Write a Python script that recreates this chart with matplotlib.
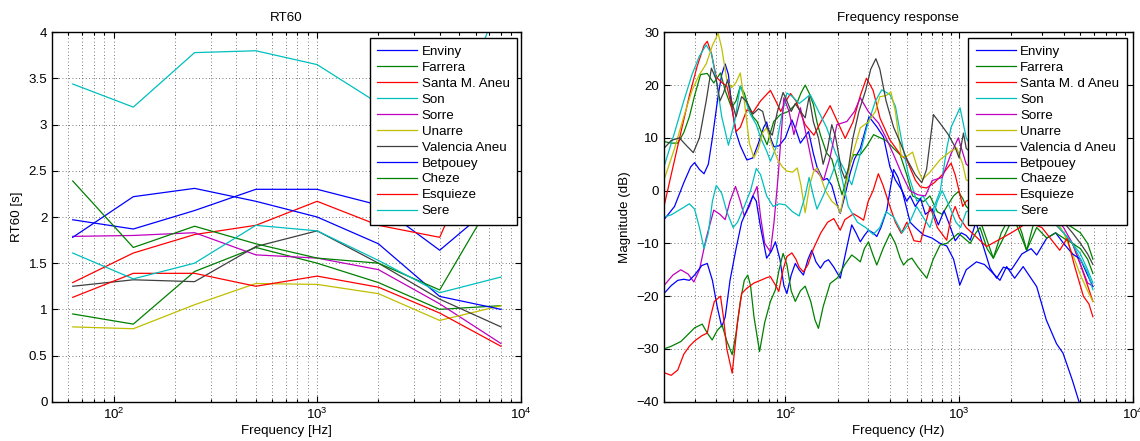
import numpy as np
import matplotlib
matplotlib.use('Agg')
import matplotlib.pyplot as plt
from matplotlib.ticker import LogLocator, NullFormatter

plt.rcParams['font.family'] = ['Liberation Sans', 'DejaVu Sans']
plt.rcParams['mathtext.fontset'] = 'custom'
plt.rcParams['mathtext.rm'] = 'Liberation Sans'
plt.rcParams['mathtext.it'] = 'Liberation Sans:italic'
plt.rcParams['mathtext.bf'] = 'Liberation Sans:bold'

# ---------------- RT60 data (octave bands) ----------------
octave_freqs = [63, 125, 250, 500, 1000, 2000, 4000, 8000]
rt_enviny = [1.97, 1.87, 2.07, 2.30, 2.30, 2.13, 1.64, 2.20]
rt_farrera = [0.95, 0.84, 1.41, 1.67, 1.50, 1.29, 1.00, 1.04]
rt_santa = [1.29, 1.61, 1.81, 1.91, 2.17, 1.91, 1.78, 3.28]
rt_son = [3.44, 3.19, 3.78, 3.80, 3.65, 3.23, 2.60, 4.40]
rt_sorre = [1.79, 1.80, 1.83, 1.59, 1.555, 1.43, 1.06, 0.63]
rt_unarre = [0.81, 0.79, 1.05, 1.28, 1.27, 1.17, 0.88, 1.04]
rt_valencia = [1.25, 1.32, 1.30, 1.68, 1.85, 1.50, 1.11, 0.81]
rt_betpouey = [1.78, 2.22, 2.31, 2.17, 2.00, 1.71, 1.14, 1.00]
rt_cheze = [2.39, 1.67, 1.90, 1.71, 1.555, 1.50, 1.21, 2.34]
rt_esquieze = [1.13, 1.39, 1.39, 1.25, 1.36, 1.24, 0.96, 0.60]
rt_sere = [1.61, 1.33, 1.50, 1.91, 1.85, 1.53, 1.18, 1.35]

rt_labels = ['Enviny', 'Farrera', 'Santa M. Aneu', 'Son', 'Sorre', 'Unarre',
             'Valencia Aneu', 'Betpouey', 'Cheze', 'Esquieze', 'Sere']
rt_yticklabels = ['0', '0.5', '1', '1.5', '2', '2.5', '3', '3.5', '4']

# ---------------- Frequency response data ----------------
enviny_f = [20, 23, 26, 28.5, 30, 32, 34, 36, 38, 41, 43, 45, 47, 49, 52, 55, 60, 65, 70, 75, 78, 82, 86, 92,
            100, 109, 115, 122, 136, 145, 152, 165, 174, 185, 200, 207, 220, 236, 250, 270, 303, 320, 336, 367,
            400, 430, 470, 523, 560, 624, 700, 778, 850, 930, 1010, 1100, 1260, 1400, 1720, 1880, 2090, 2340,
            2800, 3180, 3640, 3970, 4500, 4960]
enviny_db = [-5.5, -3, 1.5, 4.5, 5.3, 4, 3.2, 5, 10, 18, 22, 24, 22, 16, 11, 8.5, 5.8, 6.2, 9, 12, 13, 10, 8.3, 8.5,
             10, 13.4, 11.5, 9, 11.2, 7, 4.5, 2, 2.3, 1, -3, -4.3, -1, 3.3, 6, 8, 14, 13, 12.1, 10.2,
             4.5, 2, 0, -6, -7, -8.4, -9, -10, -10.5, -13, -17.9, -15, -13.5, -14, -17, -14.4, -16.6, -14.4,
             -18.2, -24.5, -29, -30.8, -36, -40.5]

farrera_f = [20, 22, 24, 26, 28, 30, 32.5, 35.5, 38.7, 42.3, 45, 49, 52, 55, 58, 61.5, 65, 68.7, 73, 78.5, 82,
             85.7, 93.6, 104, 116.6, 123, 130, 137, 145, 152, 159, 173, 185, 200, 212, 222, 231, 247, 270, 295,
             322, 352, 380, 420, 458, 500, 540, 580, 624, 680, 750, 800, 870, 930, 990, 1050, 1100, 1320, 1575,
             1750, 2053, 2300, 2450, 2700, 3000, 3500, 4000, 4500, 5000, 5500, 5900]
farrera_db = [9.3, 9, 9, 11, 14, 18, 22, 22.2, 20.4, 22.3, 19, 15.7, 17, 19.8, 18.5, 15.7, 14, 13.1, 11, 8.7, 11,
              13.1, 14.4, 15, 16.6, 18.5, 20, 18.5, 16.3, 13, 10.6, 7.1, 6, 2, -0.8, 1.5, 4.3, 6.8, 6.8, 8.5,
              10.6, 10, 9.5, 8, 6.8, 3, -1, -1.5, -2.1, -1, -4, -4.5, -2.5, -1, -0.2, -1.5, -3, -5.6, -12.8,
              -8, -3.7, -8, -11.3, -6, -3, -4, -6, -7, -8, -10, -13]

santa_f = [20, 22, 25, 28, 31, 34, 35.5, 37.5, 40, 43, 46, 49, 52, 55, 60, 65, 72, 82, 88, 94, 100, 107, 115,
           130, 146, 160, 181, 200, 221, 245, 270, 293, 320, 351, 400, 460, 500, 560, 600, 650, 720, 800, 900,
           950, 1000, 1050, 1100, 1500, 2000, 2500, 3000, 3500, 4000, 4500, 5000, 5500, 5900]
santa_db = [-3, 3, 11, 18, 23.5, 27.5, 28.3, 26, 21.5, 20.5, 19.8, 16, 11.2, 12, 15.3, 14.8, 17, 19, 17, 15, 16.8,
            18.4, 17, 12.5, 10.5, 13, 16.1, 13, 9.9, 13, 18, 21.3, 19, 13.7, 9.6, 6.8, 5.8, 2, 0.7, 0.5, 1.5, 3,
            5.2, 3, 0, -3, -2, 0, -2, -4, -3, -6, -8, -10, -14, -18, -21]

son_f = [20, 23, 26, 29, 32, 35, 37.5, 40, 43, 47, 51, 55, 59, 63, 68, 72, 78, 82, 88, 95, 102, 110, 120, 131,
         139, 150, 173, 195, 216, 241, 265, 294, 330, 359, 400, 430, 470, 511, 571, 620, 700, 780, 850, 900, 1013,
         1100, 1300, 1600, 2000, 2500, 3000, 3500, 4000, 4500, 5000, 5500, 5900]
son_db = [4.5, 11, 17, 22, 25.5, 27.6, 26, 21, 14, 8.6, 13, 19.8, 17, 14.4, 12.5, 10, 7.5, 5.6, 8, 14, 18.5, 17.8,
          16.5, 17.5, 18.2, 16, 11.9, 7, 4.3, 1.1, 6, 11.9, 17, 19.1, 18.2, 16, 9, 3, -2, -1, -4, 0, 8, 12, 15.7,
          10, 6, 2, 0, -3, -4, -5, -8, -10, -12, -15, -17.5]

sorre_f = [20, 22.5, 25, 27.5, 29.7, 32, 35, 38.7, 42, 45, 48, 51.6, 55, 58, 62, 65, 68.7, 72, 76, 82, 86, 91,
           98, 105, 112, 122, 133, 145, 152, 166, 180, 198, 226, 250, 270, 300, 344, 380, 420, 470, 520, 580,
           640, 700, 800, 900, 990, 1100, 1500, 2000, 2500, 3000, 3500, 4000, 4500, 5000, 5500, 5900]
sorre_db = [-18, -16, -15, -15.8, -17.3, -15, -9, -3.7, -4.5, -5.5, -2, 0.8, -2, -4.8, -3, -1, 0.8, -5, -10,
            -11.6, -6, 3, 17.6, 15, 10.6, 15.7, 10, 4, 3.6, 2, 6, 12.5, 13.1, 15, 17.6, 15, 12.8, 10, 6.8, 3, 0,
            -0.8, -1, 1.9, 2.5, 7, 10, 5, 2, 0, -2, -3, -5, -7, -10, -14, -17.5, -18.1]

unarre_f = [20, 23, 26, 29, 32, 35, 38, 41, 43, 46, 49, 52, 55, 58, 62, 65.8, 70, 74, 78, 83, 90, 96, 102, 110,
            117, 123, 130, 138, 145, 152, 160, 170, 185, 200, 207, 220, 240, 270, 300, 330, 350, 380, 405, 430,
            465, 500, 540, 580, 615, 680, 780, 900, 970, 1050, 1100, 1500, 2000, 2500, 3000, 3500, 4000, 4500,
            5000, 5500, 5900]
unarre_db = [2, 8, 14, 19, 22, 24, 27.5, 29.8, 27, 21, 19.5, 20.5, 22.3, 17, 9, 6.2, 8, 11, 11.9, 9, 6, 4.5, 3.7,
             3.5, 4.3, 1, -4.2, 1, 3.5, 4.3, 2.5, 0, -2, -3, -4.2, 0, 6, 11.9, 13, 15, 17.8, 18, 18.7, 15, 6.4, 6.5,
             7.3, 4, 2.1, 3.5, 5.9, 7.5, 8.1, 5, 2, 1, -1, -3, -2, -5, -8, -12, -16, -19, -21]

valencia_f = [20, 22, 24.5, 27, 29.5, 32, 35, 37.5, 40, 42, 44, 46.5, 49, 52, 56, 60, 65, 70, 74, 78, 84, 90, 97,
              102, 108, 114, 122, 130, 137, 145, 155, 165, 175, 185, 195, 210, 220, 230, 245, 265, 290, 310, 332,
              350, 380, 420, 460, 500, 560, 610, 650, 712, 780, 868, 948, 1000, 1060, 1100, 1500, 2000, 2500,
              3000, 3500, 4000, 4500, 5000, 5500, 5900]
valencia_db = [8, 9.5, 10, 8.5, 7.2, 10, 17, 23.2, 21, 17, 18.5, 21, 17, 14, 17.8, 16.8, 14.5, 15.5, 15, 12, 10.5,
               15, 18.6, 17, 15, 16.5, 15, 13.8, 17.8, 13, 10, 5, 8, 12.5, 10, 4, 2.3, 4, 10, 15, 19, 23, 25, 23,
               17, 12, 9, 6, 3, 1.5, 4, 14.4, 12.7, 10.6, 8.3, 6.2, 10.9, 8, 4, 2, 0, -2, -4, -6, -8, -10, -12, -14]

betpouey_f = [20, 22, 24, 26, 28, 30, 33, 35.5, 38, 40.5, 43, 45, 48, 52, 56, 60, 65, 68, 72, 78, 83, 87.6, 93,
              98, 102, 108, 114, 120, 127, 135, 142, 150, 159, 168, 177, 190, 207, 225, 241, 255, 270, 285, 301,
              320, 336, 355, 384, 400, 420, 445, 470, 500, 523, 560, 600, 640, 700, 760, 820, 870, 950, 1030,
              1100, 1160, 1250, 1509, 1647, 1800, 2000, 2300, 2600, 2800, 3200, 3600, 4000, 4500, 5000, 5500, 5900]
betpouey_db = [-19.5, -18, -17, -16.8, -17, -16, -14.2, -13.8, -17, -22, -25.8, -24, -17, -11, -6, -3.7, -1, -2,
               -7, -12.8, -11.5, -9.7, -13, -18, -19.5, -16, -13.8, -15, -16, -13, -11.3, -13.5, -14.7, -13.5,
               -13.1, -14.5, -16.6, -11, -6.5, -8, -9.7, -8.5, -7.5, -8, -8.7, -7, -3.7, 0, 4, 2.5, 0, -2, -1, -3,
               -1.5, -4.5, -3.5, -6.5, -3.8, -6, -9.5, -8, -8.5, -9.4, -6, -14.7, -16.6, -14.5, -15, -12, -11,
               -12.2, -9, -8, -10, -12, -13, -16, -18.2]

chaeze_f = [20, 22, 25, 28, 30, 33.2, 35.5, 37.9, 40.5, 43.2, 46, 49.4, 52, 55, 58, 60.7, 63, 66, 71, 76, 82,
            87.6, 92, 97, 102, 108, 114, 122, 130, 140, 148, 155, 165, 181, 200, 220, 241, 255, 270, 285, 301,
            318, 336, 365, 401, 430, 458, 479, 505, 535, 580, 652, 710, 778, 850, 990, 1070, 1160, 1250, 1321,
            1450, 1575, 1800, 2053, 2300, 2450, 2800, 3200, 3600, 4000, 4500, 5000, 5500, 5900]
chaeze_db = [-30, -29.5, -28.6, -27, -26, -25.3, -27, -28.3, -26.5, -25.5, -28.5, -31.1, -27, -21, -17, -16, -18,
             -24, -30.5, -25, -21, -18.8, -15, -11.9, -14, -19, -21, -19, -18.1, -21, -24.5, -26.1, -22, -17.6,
             -16.5, -14, -12.2, -12.8, -13.5, -11, -9.7, -12, -14.1, -11, -8.1, -10, -12.8, -14.1, -13.2, -12.8,
             -14.5, -16.6, -13, -10.3, -10, -8.1, -9, -10, -8, -7, -11, -12.8, -9, -5, -9, -11.3, -7, -9, -8,
             -9, -10, -11, -13, -15.7]

esquieze_f = [20, 22, 24, 26, 28, 30, 33, 35.5, 37, 39, 42.3, 44, 46, 49.4, 53, 56, 60, 66, 72, 78, 82, 88,
              91.6, 97, 102, 109, 115, 120, 127, 135, 145, 160, 175, 190, 207, 220, 247, 265, 282, 300, 320, 343,
              365, 400, 430, 465, 500, 550, 600, 681, 750, 849, 900, 950, 1000, 1100, 1440, 2000, 2500, 3000,
              3800, 4200, 4600, 5200, 5600, 5900]
esquieze_db = [-34.5, -35, -34, -31, -29.5, -28.5, -27.5, -27, -24, -21, -20, -24, -30, -34.6, -25, -19.5, -18.5,
               -17.5, -17, -16.5, -16.3, -18, -19.1, -15, -12.5, -11.8, -13, -14.5, -15.4, -14, -11, -8, -6,
               -5.3, -7.5, -5.5, -4.4, -5, -5.6, -2, 0, 3.2, 1, -3, -6, -8.1, -6, -9.5, -9.7, -3, -7, -9.4, -5,
               -3, -5, -7, -10.6, -8, -6, -7, -11.3, -9, -14, -20, -21.5, -23.9]

sere_f = [20, 22, 25, 28, 30, 32, 34, 36, 38, 40, 43, 46, 50, 53, 58, 63, 68, 72, 78, 85, 92, 100, 110, 120, 130,
          137, 145, 152, 165, 180, 200, 230, 260, 290, 320, 350, 380, 420, 470, 520, 570, 620, 680, 750, 800, 880,
          960, 1020, 1100, 1500, 2000, 2500, 3000, 3500, 4000, 4500, 5000, 5500, 5900]
sere_db = [-5, -4.6, -3.5, -2.5, -3.5, -7, -11, -8, -2, 1, -0.5, -4, -7, -6, -3, 0, 4.2, 3, -1, -3, -2.5, -2.7, -4,
           -4.8, -1, 2.5, -1, -3.5, -1, 2, 6, -3, -6, -7, -8.3, -7, -4, -5, -8, -6, -3, -5, -7, -2, 0, -3, -6, -7,
           -4, -2, -3, -4, -5, -6, -8, -10, -13, -15.5, -18.8]

fr_labels = ['Enviny', 'Farrera', 'Santa M. d Aneu', 'Son', 'Sorre', 'Unarre', 'Valencia d Aneu',
             'Betpouey', 'Chaeze', 'Esquieze', 'Sere']
fr_yticklabels = ['\u221240', '\u221230', '\u221220', '\u221210', '0', '10', '20', '30']

colors = [(0, 0, 1), (0, 0.5, 0), (1, 0, 0), (0, 0.75, 0.75), (0.75, 0, 0.75), (0.75, 0.75, 0),
          (0.25, 0.25, 0.25), (0, 0, 1), (0, 0.5, 0), (1, 0, 0), (0, 0.75, 0.75)]

W, H = 1140, 441
fig = plt.figure(figsize=(W / 100, H / 100), dpi=100)


def ax_rect(x0, x1, y0, y1):
    return [x0 / W, 1 - y1 / H, (x1 - x0) / W, (y1 - y0) / H]


ax1 = fig.add_axes(ax_rect(52.3, 520.7, 32.3, 401.7))
ax2 = fig.add_axes(ax_rect(664, 1132.7, 32.3, 401.7))

lw = 0.9
rt_series = [rt_enviny, rt_farrera, rt_santa, rt_son, rt_sorre, rt_unarre, rt_valencia,
             rt_betpouey, rt_cheze, rt_esquieze, rt_sere]
for vals, lab, c in zip(rt_series, rt_labels, colors):
    ax1.plot(octave_freqs, vals, color=c, lw=lw, label=lab)

fr_series = [(enviny_f, enviny_db), (farrera_f, farrera_db), (santa_f, santa_db), (son_f, son_db),
             (sorre_f, sorre_db), (unarre_f, unarre_db), (valencia_f, valencia_db),
             (betpouey_f, betpouey_db), (chaeze_f, chaeze_db), (esquieze_f, esquieze_db), (sere_f, sere_db)]
for (f, d), lab, c in zip(fr_series, fr_labels, colors):
    ax2.plot(f, d, color=c, lw=lw, label=lab)

fs = 9.6
for ax in (ax1, ax2):
    ax.set_xscale('log')
    ax.xaxis.set_major_locator(LogLocator(base=10, numticks=10))
    ax.xaxis.set_minor_locator(LogLocator(base=10, subs=np.arange(2, 10), numticks=20))
    ax.xaxis.set_minor_formatter(NullFormatter())
    ax.grid(True, which='major', axis='both', color='black', linestyle=(0, (1, 3)), linewidth=0.6, alpha=0.7)
    ax.grid(True, which='minor', axis='x', color='black', linestyle=(0, (1, 3)), linewidth=0.6, alpha=0.7)
    ax.tick_params(which='both', direction='in', top=True, right=True, labelsize=fs, width=0.8)
    ax.tick_params(which='major', length=4)
    ax.tick_params(which='minor', length=2)
    for s in ax.spines.values():
        s.set_linewidth(1.0)
    ax.set_axisbelow(True)

ax1.set_xlim(50, 10000)
ax1.set_ylim(0, 4)
ax1.set_yticks(np.arange(0, 4.01, 0.5))
ax1.set_yticklabels(rt_yticklabels)
ax1.set_title('RT60', fontsize=fs, pad=8)
ax1.set_xlabel('Frequency [Hz]', fontsize=fs, labelpad=2)
ax1.set_ylabel('RT60 [s]', fontsize=fs, labelpad=4)

ax2.set_xlim(20, 10000)
ax2.set_ylim(-40, 30)
ax2.set_yticks(np.arange(-40, 31, 10))
ax2.set_yticklabels(fr_yticklabels)
ax2.set_title('Frequency response', fontsize=fs, pad=8)
ax2.set_xlabel('Frequency (Hz)', fontsize=fs, labelpad=2)
ax2.set_ylabel('Magnitude (dB)', fontsize=fs, labelpad=4)

leg_kw = dict(loc='upper right', fontsize=9.6, frameon=True, fancybox=False, framealpha=1,
              edgecolor='black', handlelength=3.0, handletextpad=0.35, labelspacing=0.27,
              borderpad=0.55, borderaxespad=0)
l1 = ax1.legend(bbox_to_anchor=(1 - 3.7 / 468.4, 1 - 6 / 369.4), **leg_kw)
l2 = ax2.legend(bbox_to_anchor=(1 - 6 / 468.7, 1 - 6 / 369.4), **leg_kw)
for lg in (l1, l2):
    lg.get_frame().set_linewidth(1.0)

fig.savefig('out.png', dpi=100)
